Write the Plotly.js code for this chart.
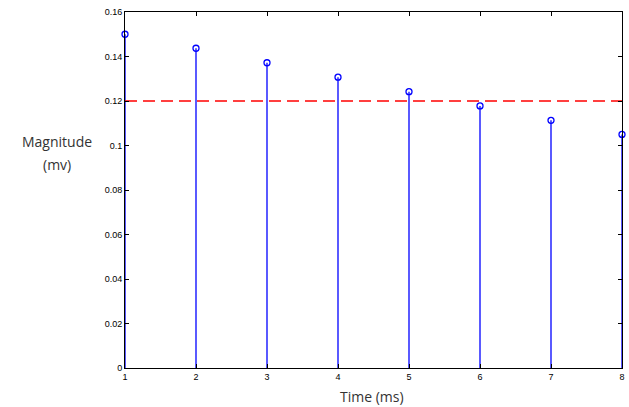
<!DOCTYPE html>
<html><head><meta charset="utf-8">
<script src="https://cdn.plot.ly/plotly-3.0.1.min.js"></script>
<style>html,body{margin:0;padding:0;background:#fff}#plot{width:629px;height:407px}</style>
</head><body><div id="plot"></div>
<script>
const timeMs = [1, 2, 3, 4, 5, 6, 7, 8];
const magnitude = [0.150, 0.1437, 0.1372, 0.1307, 0.1242, 0.1178, 0.1113, 0.1050];
const threshold = 0.12;
const yTicks = [0, 0.02, 0.04, 0.06, 0.08, 0.1, 0.12, 0.14, 0.16];
const yTickText = ['0', '0.02', '0.04', '0.06', '0.08', '0.1', '0.12', '0.14', '0.16'];

const stemX = [], stemY = [];
timeMs.forEach((t, i) => { stemX.push(t, t, null); stemY.push(0, magnitude[i], null); });

const traces = [
  {x: stemX, y: stemY, mode: 'lines', line: {color: '#0000ff', width: 1.3}, hoverinfo: 'skip', showlegend: false, cliponaxis: false},
  {x: timeMs, y: magnitude, mode: 'markers', marker: {symbol: 'circle-open', size: 6, color: '#0000ff', line: {width: 1.3}}, showlegend: false, cliponaxis: false},
  {x: [timeMs[0], timeMs[timeMs.length - 1]], y: [threshold, threshold], mode: 'lines', line: {color: '#ff0000', width: 1.3, dash: '12px,6px'}, showlegend: false}
];

const layout = {
  width: 629, height: 407,
  margin: {l: 125, r: 7, t: 12, b: 39},
  paper_bgcolor: '#fff', plot_bgcolor: '#fff',
  font: {family: 'Arial, Liberation Sans, sans-serif', size: 9, color: '#000'},
  xaxis: {range: [1, 8], tickvals: timeMs, ticks: 'inside', ticklen: 4, tickcolor: '#000', mirror: 'ticks',
          showline: true, linecolor: '#000', linewidth: 1, showgrid: false, zeroline: false,
          tickfont: {size: 9}, fixedrange: true},
  yaxis: {range: [0, 0.16], tickvals: yTicks, ticktext: yTickText, ticks: 'inside', ticklen: 4, tickcolor: '#000', mirror: 'ticks',
          showline: true, linecolor: '#000', linewidth: 1, showgrid: false, zeroline: false,
          tickfont: {size: 9}, fixedrange: true},
  annotations: [
    {text: 'Magnitude', xref: 'paper', yref: 'paper', x: -0.137, y: 0.637, xanchor: 'center', yanchor: 'middle', showarrow: false,
     font: {family: 'Open Sans, Liberation Sans, sans-serif', size: 14, color: '#333'}},
    {text: '(mv)', xref: 'paper', yref: 'paper', x: -0.137, y: 0.572, xanchor: 'center', yanchor: 'middle', showarrow: false,
     font: {family: 'Open Sans, Liberation Sans, sans-serif', size: 14, color: '#333'}},
    {text: 'Time (ms)', xref: 'paper', yref: 'paper', x: 0.497, y: -0.079, xanchor: 'center', yanchor: 'middle', showarrow: false,
     font: {family: 'Open Sans, Liberation Sans, sans-serif', size: 14, color: '#333'}}
  ]
};
Plotly.newPlot('plot', traces, layout, {displayModeBar: false, staticPlot: true});
</script></body></html>
